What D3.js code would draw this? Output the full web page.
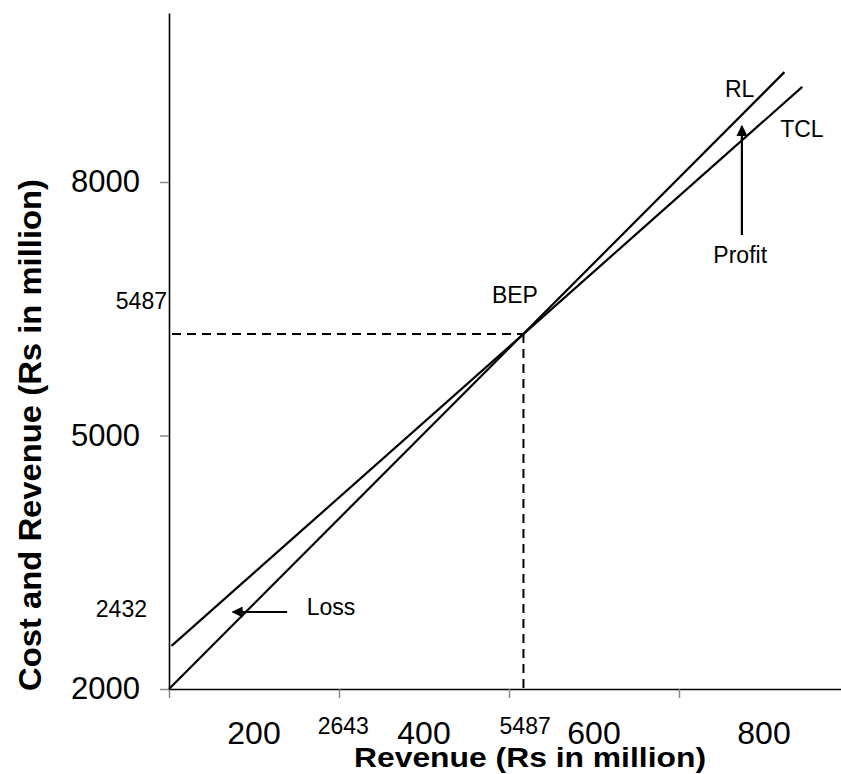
<!DOCTYPE html>
<html><head><meta charset="utf-8">
<script src="https://cdn.jsdelivr.net/npm/d3@7"></script>
<style>body{margin:0;background:#fff} svg{display:block} text{font-family:"Liberation Sans",Arial,Helvetica,sans-serif;fill:#000}</style>
</head><body>
<script>
// ---- data ----
const xTickLabels = [200, 400, 600, 800];
const xTickMarks = [100, 300, 500, 700];
const yTickLabels = [2000, 5000, 8000];
const revenueLine = [[100, 2000], [824, 9300]];   // RL
const costLine = [[103, 2510], [845, 9125]];      // TCL
const bep = [517, 6200];
const xNotes = [{label: "2643", x: 305}, {label: "5487", x: 519}];
const yNotes = [{label: "5487", y: 6590}, {label: "2432", y: 2947}];
const textNotes = [
  {label: "RL", x: 754, y: 9006, anchor: "start"},
  {label: "TCL", x: 819, y: 8533, anchor: "start"},
  {label: "Profit", x: 772, y: 7041, anchor: "middle"},
  {label: "BEP", x: 507, y: 6568, anchor: "middle"},
  {label: "Loss", x: 262, y: 2876, anchor: "start"}
];
const arrows = [
  {from: [774, 7373], to: [774, 8663]},   // Profit
  {from: [239, 2911], to: [175, 2911]}    // Loss
];

const W = 841, H = 774;
const svg = d3.select("body").append("svg").attr("width", W).attr("height", H);
const x = d3.scaleLinear().domain([100, 900]).range([169, 849]);
const y = d3.scaleLinear().domain([2000, 10000]).range([689, 13]);

svg.append("defs").append("marker")
  .attr("id", "ah").attr("viewBox", "0 0 10 10").attr("refX", 9).attr("refY", 5)
  .attr("markerWidth", 5).attr("markerHeight", 5).attr("markerUnits", "strokeWidth")
  .attr("orient", "auto")
  .append("path").attr("d", "M0,0L10,5L0,10Z").attr("fill", "#000");

// x axis line + tick marks
const gx = svg.append("g").attr("transform", `translate(0,${y(2000)})`)
  .call(d3.axisBottom(x).tickValues(xTickMarks).tickSize(9).tickSizeOuter(0).tickFormat(""));
gx.select(".domain").attr("stroke", "#000").attr("stroke-width", 1.6);
gx.selectAll(".tick line").attr("stroke", "#888").attr("stroke-width", 1.5);

// x labels (between marks)
svg.append("g").selectAll("text").data(xTickLabels).join("text")
  .attr("x", d => x(d)).attr("y", 744).attr("text-anchor", "middle")
  .style("font-size", "32px").text(d => d);

// y axis
const gy = svg.append("g").attr("transform", `translate(${x(100)},0)`)
  .call(d3.axisLeft(y).tickValues(yTickLabels).tickSize(9).tickSizeOuter(0).tickPadding(20).tickFormat(d3.format("d")));
gy.select(".domain").attr("stroke", "#000").attr("stroke-width", 1.6);
gy.selectAll(".tick line").attr("stroke", "#888").attr("stroke-width", 1.5);
gy.selectAll(".tick text").style("font-size", "31px").attr("fill", "#000")
  .style("font-family", '"Liberation Sans",Arial,sans-serif');

// dashed guides
const dash = "9,6";
svg.append("line").attr("x1", x(100) + 3).attr("x2", x(bep[0])).attr("y1", y(bep[1])).attr("y2", y(bep[1]))
  .attr("stroke", "#000").attr("stroke-width", 2).attr("stroke-dasharray", dash);
svg.append("line").attr("x1", x(bep[0])).attr("x2", x(bep[0])).attr("y1", y(bep[1])).attr("y2", y(2000))
  .attr("stroke", "#000").attr("stroke-width", 2).attr("stroke-dasharray", dash);

// lines
const line = d3.line().x(d => x(d[0])).y(d => y(d[1]));
[revenueLine, costLine].forEach(l => {
  svg.append("path").attr("d", line(l)).attr("fill", "none").attr("stroke", "#000").attr("stroke-width", 2.2);
});

// arrows
arrows.forEach(a => {
  svg.append("line").attr("x1", x(a.from[0])).attr("y1", y(a.from[1]))
    .attr("x2", x(a.to[0])).attr("y2", y(a.to[1]))
    .attr("stroke", "#000").attr("stroke-width", 2.2).attr("marker-end", "url(#ah)");
});

// annotation texts
svg.append("g").selectAll("text").data(textNotes).join("text")
  .attr("x", d => x(d.x)).attr("y", d => y(d.y)).attr("text-anchor", d => d.anchor)
  .style("font-size", "23px").text(d => d.label);

svg.append("g").selectAll("text").data(xNotes).join("text")
  .attr("x", d => x(d.x)).attr("y", 734).attr("text-anchor", "middle")
  .style("font-size", "23px").text(d => d.label);

svg.append("g").selectAll("text").data(yNotes).join("text")
  .attr("x", d => d.label === "2432" ? 147 : 167).attr("y", d => y(d.y)).attr("dy", "0.35em")
  .attr("text-anchor", "end").style("font-size", "23px").text(d => d.label);

// axis titles
svg.append("text").attr("x", 530).attr("y", 767).attr("text-anchor", "middle")
  .style("font-size", "28px").style("font-weight", "bold")
  .attr("textLength", 352).attr("lengthAdjust", "spacingAndGlyphs")
  .text("Revenue (Rs in million)");
svg.append("text").attr("transform", "translate(41,435) rotate(-90)").attr("text-anchor", "middle")
  .style("font-size", "32px").style("font-weight", "bold")
  .attr("textLength", 512).attr("lengthAdjust", "spacingAndGlyphs")
  .text("Cost and Revenue (Rs in million)");
</script>
</body></html>
